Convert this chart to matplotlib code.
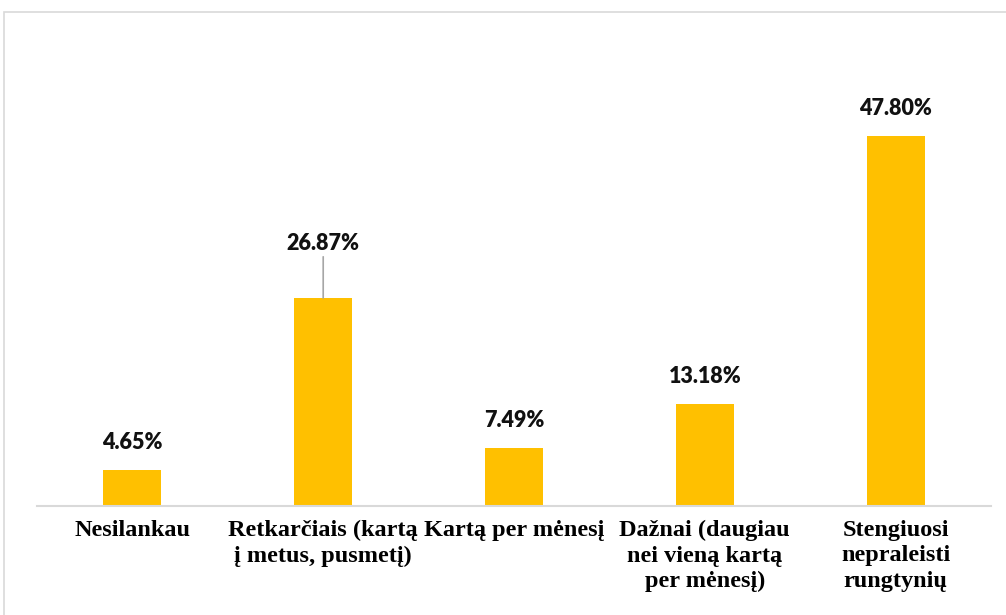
import matplotlib.pyplot as plt
from matplotlib.patches import Rectangle

categories = ['Nesilankau', 'Retkarčiais (kartą\nį metus, pusmetį)', 'Kartą per mėnesį',
              'Dažnai (daugiau\nnei vieną kartą\nper mėnesį)', 'Stengiuosi\nnepraleisti\nrungtynių']
values = [4.65, 26.87, 7.49, 13.18, 47.80]
labels = ['4.65%', '26.87%', '7.49%', '13.18%', '47.80%']
# label lift above the bar top, in pixels (the second one has a leader line)
lift = [17, 44, 17, 17, 17]

fig = plt.figure(figsize=(10.06, 6.15), dpi=100)

# chart area border (runs off the right and bottom edge)
fig.patches.append(Rectangle((3.5 / 1006, -0.1), 1.2, 1 - 11.5 / 615 + 0.1, transform=fig.transFigure,
                             fill=False, edgecolor='#D9D9D9', linewidth=1.2, clip_on=False))

ymax = 55
px_per_unit = 370 / 47.8
ax = fig.add_axes([37 / 1006, 109 / 615, 954 / 1006, ymax * px_per_unit / 615])

x = range(len(values))
ax.bar(x, values, width=0.304, color='#FFC000', zorder=2)
ax.set_xlim(-0.5, len(values) - 0.5)
ax.set_ylim(0, ymax)

for i, v in enumerate(values):
    kw = {}
    if i == 1:
        kw['arrowprops'] = dict(arrowstyle='-', color='#A6A6A6', lw=1.2, shrinkA=0, shrinkB=0)
    ax.annotate(labels[i], xy=(i, v), xytext=(0, lift[i]), textcoords='offset pixels',
                ha='center', va='bottom', fontsize=15.5, fontweight='heavy', family='Lato',
                color='#111111', **kw)

for s in ['top', 'right', 'left']:
    ax.spines[s].set_visible(False)
ax.spines['bottom'].set_color('#D9D9D9')
ax.spines['bottom'].set_linewidth(1.5)
ax.set_yticks([])
ax.set_xticks(list(x))
ax.set_xticklabels(categories, family='Liberation Serif', fontweight='bold', fontsize=17.5,
                   linespacing=1.28, va='top')
ax.tick_params(axis='x', length=0, pad=10)

fig.savefig('out.png', dpi=100)
